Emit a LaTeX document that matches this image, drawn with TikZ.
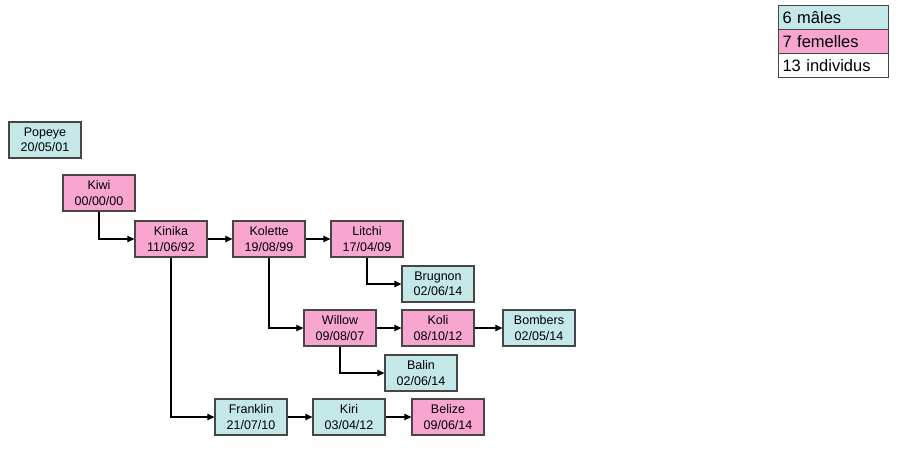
\documentclass[tikz,border=0pt]{standalone}
\usepackage{fontspec}
\setmainfont{Liberation Sans}
\usetikzlibrary{arrows.meta}
\definecolor{male}{RGB}{196,232,232}
\definecolor{female}{RGB}{248,166,208}
\definecolor{edge}{RGB}{70,70,70}
\tikzset{
  indiv/.style={draw=edge, line width=1.3pt, minimum width=72pt, minimum height=36pt,
    inner sep=0pt, align=center, font=\fontsize{12.5}{15.5}\selectfont},
  mbox/.style={indiv, fill=male},
  fbox/.style={indiv, fill=female},
  link/.style={-{Triangle[length=7pt,width=6.5pt]}, line width=1.1pt, black},
  legend/.style={draw=edge, line width=1.1pt, minimum width=110pt, minimum height=24pt,
    inner xsep=4pt, inner ysep=0pt, anchor=north west, text width=102pt, align=left,
    font=\fontsize{16.5}{18}\selectfont}
}
\begin{document}
\begin{tikzpicture}[x=1pt,y=-1pt]
\useasboundingbox (0,0) rectangle (907,450);
\node[mbox] (popeye) at (45,140) {Popeye\\20/05/01};
\node[fbox] (kiwi) at (99,193) {Kiwi\\00/00/00};
\node[fbox] (kinika) at (171,239) {Kinika\\11/06/92};
\node[fbox] (kolette) at (269,239) {Kolette\\19/08/99};
\node[fbox] (litchi) at (367,239) {Litchi\\17/04/09};
\node[mbox] (brugnon) at (438,284) {Brugnon\\02/06/14};
\node[fbox] (willow) at (340,328) {Willow\\09/08/07};
\node[fbox] (koli) at (438,328) {Koli\\08/10/12};
\node[mbox] (bombers) at (539,328) {Bombers\\02/05/14};
\node[mbox] (balin) at (421,373) {Balin\\02/06/14};
\node[mbox] (franklin) at (251,417) {Franklin\\21/07/10};
\node[mbox] (kiri) at (349,417) {Kiri\\03/04/12};
\node[fbox] (belize) at (448,417) {Belize\\09/06/14};

\draw[link] (kiwi.south) |- (kinika.west);
\draw[link] (kinika) -- (kolette);
\draw[link] (kolette) -- (litchi);
\draw[link] (litchi.south) |- (brugnon.west);
\draw[link] (kolette.south) |- (willow.west);
\draw[link] (willow) -- (koli);
\draw[link] (koli) -- (bombers);
\draw[link] (willow.south) |- (balin.west);
\draw[link] (kinika.south) |- (franklin.west);
\draw[link] (franklin) -- (kiri);
\draw[link] (kiri) -- (belize);

\node[legend, fill=male] (lm) at (778,5) {6 mâles};
\node[legend, fill=female] (lf) at (778,29) {7 femelles};
\node[legend, fill=white] (li) at (778,53) {13 individus};
\end{tikzpicture}
\end{document}
